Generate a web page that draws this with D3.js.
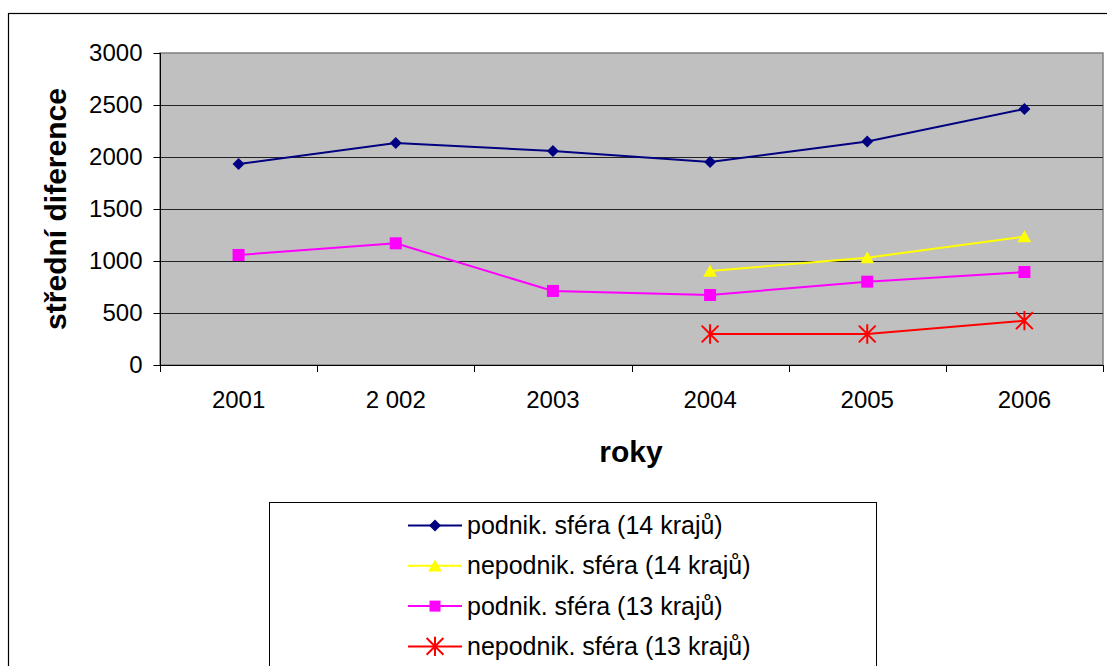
<!DOCTYPE html>
<html><head><meta charset="utf-8">
<script src="https://cdn.jsdelivr.net/npm/d3@7"></script>
<style>html,body{margin:0;padding:0;background:#fff}svg{display:block}text{font-family:"Liberation Sans",Arial,sans-serif}</style>
</head><body>
<svg id="c" width="1107" height="666"></svg>
<script>
const years = ["2001","2 002","2003","2004","2005","2006"];
const podnik14 = [1933, 2135, 2058, 1952, 2150, 2462];
const nepodnik14 = [null, null, null, 904, 1032, 1234];
const podnik13 = [1058, 1170, 712, 673, 801, 894];
const nepodnik13 = [null, null, null, 298, 298, 426];
const yTicks = [0, 500, 1000, 1500, 2000, 2500, 3000];
const seriesNames = ["podnik. sféra (14 krajů)","nepodnik. sféra (14 krajů)","podnik. sféra (13 krajů)","nepodnik. sféra (13 krajů)"];
const seriesColors = ["#000080","#FFFF00","#FF00FF","#FF0000"];
const seriesShapes = ["diamond","triangle","square","star"];
const yTitle = "střední diference";
const xTitle = "roky";

const series = [podnik14, nepodnik14, podnik13, nepodnik13].map((v,i)=>({name:seriesNames[i],color:seriesColors[i],shape:seriesShapes[i],values:v}));

const svg = d3.select("#c");
const L=160, T=53, R=1103, B=365;
svg.append("rect").attr("x",8.5).attr("y",13.5).attr("width",1120).attr("height",700).attr("fill","#fff").attr("stroke","#000").attr("stroke-width",1.2);

const x = d3.scaleBand().domain(years).range([L,R]).padding(0);
const y = d3.scaleLinear().domain([0,3000]).range([B,T]);

svg.append("rect").attr("x",L).attr("y",T).attr("width",R-L).attr("height",B-T).attr("fill","#C0C0C0").attr("stroke","#808080").attr("stroke-width",1.5);

svg.append("g").selectAll("line").data(yTicks.filter(d=>d>0 && d<3000)).join("line")
  .attr("x1",L).attr("x2",R).attr("y1",d=>Math.round(y(d))+0.5).attr("y2",d=>Math.round(y(d))+0.5)
  .attr("stroke","#222").attr("stroke-width",1);

const ya = svg.append("g").attr("transform",`translate(${L+0.5},0)`)
  .call(d3.axisLeft(y).tickValues(yTicks).tickSize(7).tickPadding(11).tickFormat(d3.format("d")));
ya.select(".domain").attr("stroke","#000").attr("d",`M0,${T}V${B}`);
ya.selectAll(".tick line").attr("stroke","#000");
ya.selectAll("text").attr("font-size",24).attr("fill","#000").attr("font-family","Liberation Sans, Arial, sans-serif");

const xa = svg.append("g").attr("transform",`translate(0,${B+0.5})`)
  .call(d3.axisBottom(x).tickSize(0).tickPadding(25));
xa.select(".domain").attr("stroke","#000").attr("d",`M${L},0H${R}`);
xa.selectAll("text").attr("font-size",24).attr("fill","#000").attr("font-family","Liberation Sans, Arial, sans-serif");
const bounds = years.map(d=>x(d)).concat([x(years[years.length-1])+x.bandwidth()]);
svg.append("g").selectAll("line").data(bounds).join("line")
  .attr("x1",d=>Math.round(d)+0.5).attr("x2",d=>Math.round(d)+0.5).attr("y1",B).attr("y2",B+7).attr("stroke","#000");

svg.append("text").attr("transform",`translate(66,${(T+B)/2}) rotate(-90)`).attr("text-anchor","middle")
  .attr("font-size",30).attr("font-weight","bold").text(yTitle);
svg.append("text").attr("x",631).attr("y",462).attr("text-anchor","middle")
  .attr("font-size",30).attr("font-weight","bold").text(xTitle);

function drawMarker(g, shape, color, cx, cy, s){
  if(shape==="diamond"){
    g.append("path").attr("d",`M${cx},${cy-s}L${cx+s},${cy}L${cx},${cy+s}L${cx-s},${cy}Z`).attr("fill",color);
  } else if(shape==="square"){
    g.append("rect").attr("x",cx-s).attr("y",cy-s).attr("width",2*s).attr("height",2*s).attr("fill",color);
  } else if(shape==="triangle"){
    g.append("path").attr("d",`M${cx},${cy-s*1.05}L${cx+s*1.15},${cy+s*0.95}L${cx-s*1.15},${cy+s*0.95}Z`).attr("fill",color);
  } else if(shape==="star"){
    const r=s*1.2;
    g.append("path").attr("d",`M${cx-r},${cy-r}L${cx+r},${cy+r}M${cx-r},${cy+r}L${cx+r},${cy-r}M${cx},${cy-r*1.15}L${cx},${cy+r*1.15}`)
      .attr("stroke",color).attr("stroke-width",2).attr("fill","none");
  }
}

const cx = i => x(years[i]) + x.bandwidth()/2;
const line = d3.line().defined(d=>d.v!=null).x(d=>cx(d.i)).y(d=>y(d.v));
series.forEach(s=>{
  const pts = s.values.map((v,i)=>({v,i}));
  svg.append("path").attr("d",line(pts)).attr("fill","none").attr("stroke",s.color).attr("stroke-width",2);
});
series.forEach(s=>{
  const g = svg.append("g");
  s.values.forEach((v,i)=>{ if(v!=null) drawMarker(g,s.shape,s.color,cx(i),y(v),s.shape==="star"?7:6); });
});

svg.append("rect").attr("x",269.5).attr("y",502.5).attr("width",607).attr("height",200).attr("fill","#fff").attr("stroke","#000").attr("stroke-width",1);
series.forEach((s,i)=>{
  const ly = 525.5 + i*40.3;
  const g = svg.append("g");
  g.append("line").attr("x1",408).attr("x2",462).attr("y1",ly).attr("y2",ly).attr("stroke",s.color).attr("stroke-width",2);
  drawMarker(g,s.shape,s.color,435,ly,s.shape==="square"?5.5:(s.shape==="star"?7:6));
  g.append("text").attr("x",467).attr("y",ly+8.5).attr("font-size",25).attr("fill","#000").text(s.name);
});
</script>
</body></html>
